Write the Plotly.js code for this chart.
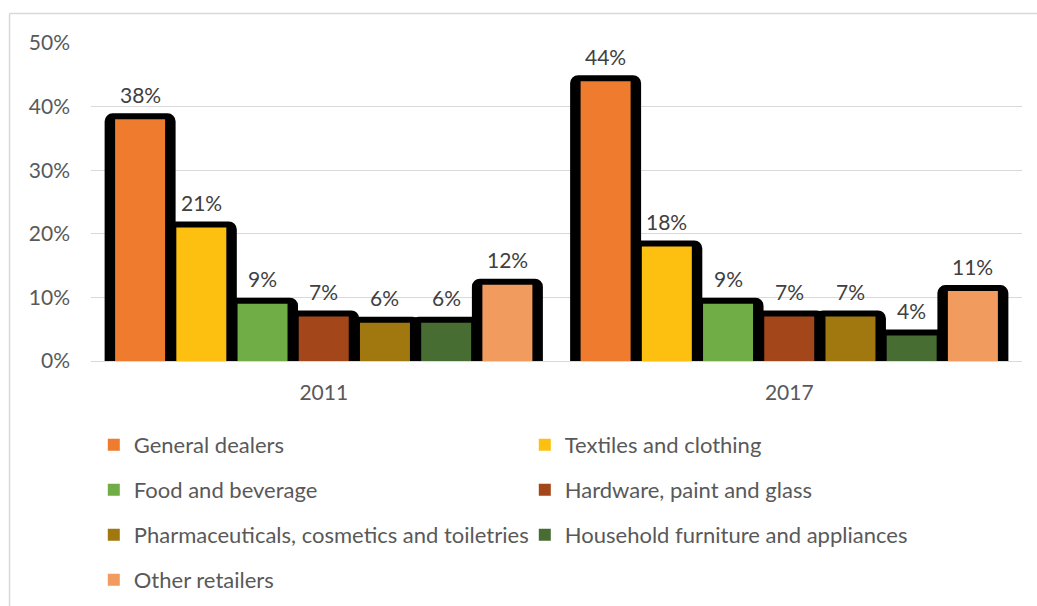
<!DOCTYPE html>
<html>
<head>
<meta charset="utf-8">
<script src="https://cdn.plot.ly/plotly-3.0.1.min.js"></script>
<style>html,body{margin:0;padding:0;background:#fff;}#chart{width:1037px;height:606px;}</style>
</head>
<body>
<div id="chart"></div>
<script>
// ---- data ----
const categories = ['2011', '2017'];
const seriesNames = [
  'General dealers',
  'Textiles and clothing',
  'Food and beverage',
  'Hardware, paint and glass',
  'Pharmaceuticals, cosmetics and toiletries',
  'Household furniture and appliances',
  'Other retailers'
];
const generalDealers = [0.38, 0.44];
const textilesClothing = [0.21, 0.18];
const foodBeverage = [0.09, 0.09];
const hardwarePaintGlass = [0.07, 0.07];
const pharmaCosmetics = [0.06, 0.07];
const householdFurniture = [0.06, 0.04];
const otherRetailers = [0.12, 0.11];
const yTickVals = [0, 0.1, 0.2, 0.3, 0.4, 0.5];
const yTickText = ['0%', '10%', '20%', '30%', '40%', '50%'];

const seriesValues = [generalDealers, textilesClothing, foodBeverage, hardwarePaintGlass,
                      pharmaCosmetics, householdFurniture, otherRetailers];
const colors = ['#EE7B2E', '#FDC010', '#70AD47', '#A3461A', '#A0780F', '#486D33', '#F29B5F'];
const legendIds = ['legend', 'legend', 'legend2', 'legend2', 'legend3', 'legend3', 'legend4'];

// ---- geometry (category units) ----
const pitch = 0.1315, fillW = 0.1074, shadowW = 0.1267;
const FONT = 'Lato, "Open Sans", sans-serif';

const traces = [];
const annotations = [];
seriesValues.forEach((vals, i) => {
  const c = (i - 3) * pitch;
  traces.push({
    type: 'bar', x: categories, y: vals,
    offset: c - shadowW / 2, width: shadowW,
    marker: {color: '#000', line: {color: '#000', width: 12}, cornerradius: 2},
    showlegend: false, hoverinfo: 'skip'
  });
  traces.push({
    type: 'bar', x: categories, y: vals, name: seriesNames[i],
    offset: c - fillW / 2, width: fillW,
    marker: {color: colors[i], line: {width: 0}},
    legend: legendIds[i], hoverinfo: 'skip'
  });
  vals.forEach((v, j) => {
    annotations.push({
      x: j + c, y: v, xref: 'x', yref: 'y', yshift: 25,
      text: Math.round(v * 100) + '%', showarrow: false,
      xanchor: 'center', yanchor: 'middle',
      font: {family: FONT, size: 21, color: '#404040'}
    });
  });
});

const legendFont = {family: FONT, size: 22, color: '#595959'};
function mkLegend(y) {
  return {orientation: 'h', x: 0.003, xanchor: 'left', y: y, yanchor: 'middle',
          entrywidth: 386, entrywidthmode: 'pixels', font: legendFont,
          bgcolor: 'rgba(0,0,0,0)', borderwidth: 0, traceorder: 'normal'};
}

const layout = {
  width: 1037, height: 606,
  margin: {l: 91, r: 15, t: 43, b: 245, autoexpand: false},
  paper_bgcolor: '#fff', plot_bgcolor: '#fff',
  barmode: 'overlay',
  font: {family: FONT, color: '#595959'},
  xaxis: {
    type: 'category', range: [-0.5, 1.5], showgrid: false, zeroline: false,
    showline: false, ticks: '', ticklabelstandoff: 17, automargin: false,
    tickfont: {family: FONT, size: 21, color: '#595959'}, fixedrange: true
  },
  yaxis: {
    range: [0, 0.5], tickvals: yTickVals, ticktext: yTickText,
    showgrid: true, gridcolor: '#D9D9D9', gridwidth: 1,
    zeroline: true, zerolinecolor: '#D9D9D9', zerolinewidth: 1,
    showline: false, ticks: '', ticklabelstandoff: 20, automargin: false,
    tickfont: {family: FONT, size: 21, color: '#595959'}, fixedrange: true
  },
  showlegend: true,
  legend: mkLegend(-0.2642),
  legend2: mkLegend(-0.4057),
  legend3: mkLegend(-0.5472),
  legend4: mkLegend(-0.6887),
  annotations: annotations,
  shapes: [
    {type: 'line', xref: 'paper', yref: 'paper', x0: -0.0875, x1: 1.02, y0: 1.0928, y1: 1.0928,
     line: {color: '#D9D9D9', width: 1.5}},
    {type: 'line', xref: 'paper', yref: 'paper', x0: -0.0875, x1: -0.0875, y0: 1.0928, y1: -0.8,
     line: {color: '#D9D9D9', width: 1.5}}
  ]
};

Plotly.newPlot('chart', traces, layout, {staticPlot: true, displayModeBar: false});
</script>
</body>
</html>
